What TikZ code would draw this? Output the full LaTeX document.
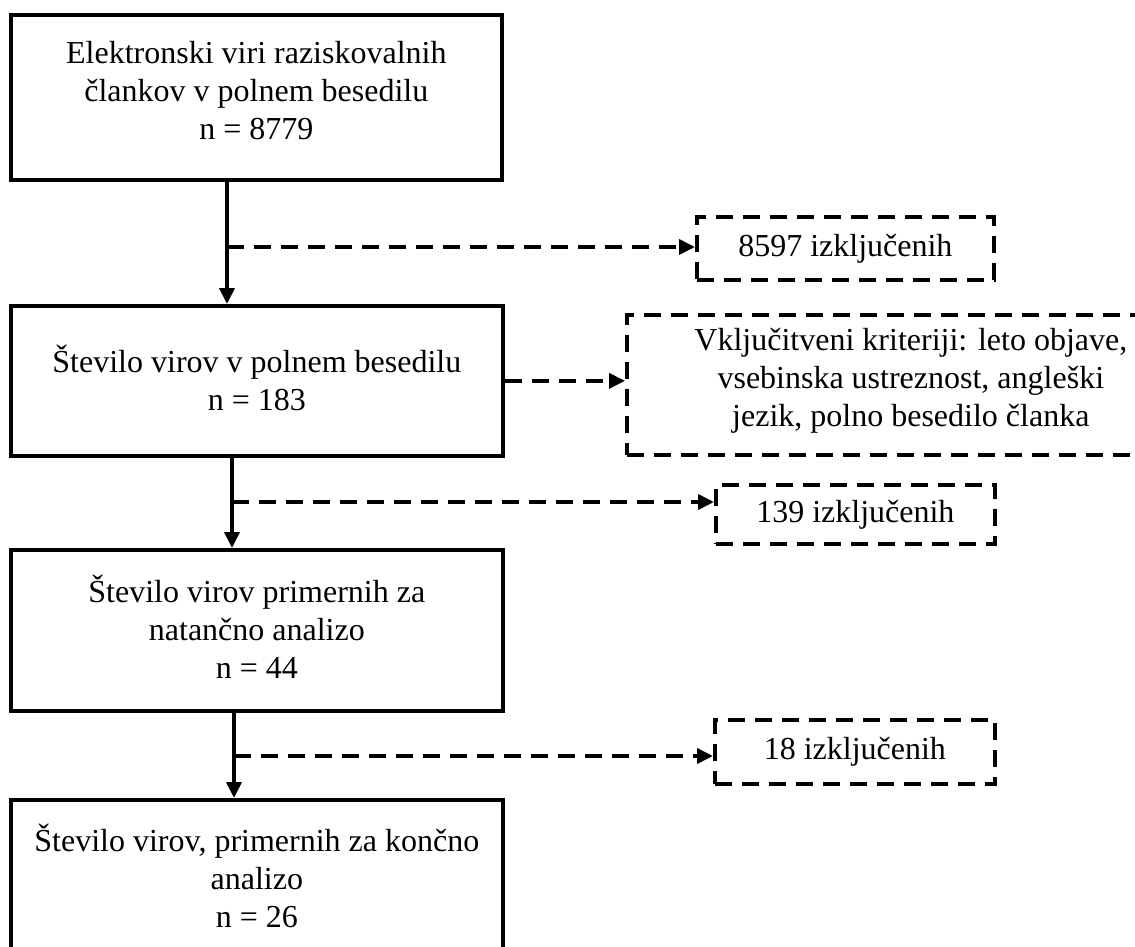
\documentclass[tikz,border=0pt]{standalone}
\usepackage{fontspec}
\setmainfont{Liberation Serif}
\usetikzlibrary{arrows.meta}
\begin{document}
\begin{tikzpicture}[x=1pt,y=-1pt,
  box/.style={draw, line width=3.7pt, rectangle, anchor=north west, inner sep=0pt, align=center, font=\fontsize{32}{38}\selectfont},
  dbox/.style={box, dash pattern=on 17pt off 10pt},
  flow/.style={line width=3.7pt, -{Triangle[length=16pt,width=15pt]}},
  side/.style={flow, dash pattern=on 17pt off 10pt},
]
\useasboundingbox (0,0) rectangle (1135,947);

\node[box, minimum width=491pt, minimum height=165pt, text depth=14pt] (b1) at (9,13)
  {Elektronski viri raziskovalnih\\člankov v polnem besedilu\\n = 8779};
\node[box, minimum width=492pt, minimum height=150pt, text depth=6pt] (b2) at (9,304)
  {Število virov v polnem besedilu\\n = 183};
\node[box, minimum width=492pt, minimum height=161pt, text depth=7pt] (b3) at (9,548)
  {Število virov primernih za\\natančno analizo\\n = 44};
\node[box, minimum width=492pt, minimum height=160pt, text depth=9pt] (b4) at (9,798)
  {Število virov, primernih za končno\\analizo\\n = 26};

\node[dbox, minimum width=297pt, minimum height=63pt] (d1) at (695,215)
  {8597 izključenih};
\node[dbox, minimum width=568pt, minimum height=140pt, text depth=14pt] (d2) at (625,313)
  {Vključitveni kriteriji: leto objave,\\vsebinska ustreznost, angleški\\jezik, polno besedilo članka};
\node[dbox, minimum width=279pt, minimum height=59pt] (d3) at (714,483)
  {139 izključenih};
\node[dbox, minimum width=280pt, minimum height=64pt] (d4) at (713,718)
  {18 izključenih};

\coordinate (j1) at (227,247);
\coordinate (j2) at (232,502);
\coordinate (j3) at (234,756);

\draw[flow] (b1.south -| j1) -- (b2.north -| j1);
\draw[flow] (b2.south -| j2) -- (b3.north -| j2);
\draw[flow] (b3.south -| j3) -- (b4.north -| j3);

\draw[side] (j1) -- (j1 -| d1.west);
\draw[side] (b2.east) -- (b2.east -| d2.west);
\draw[side] (j2) -- (j2 -| d3.west);
\draw[side] (j3) -- (j3 -| d4.west);
\end{tikzpicture}
\end{document}
